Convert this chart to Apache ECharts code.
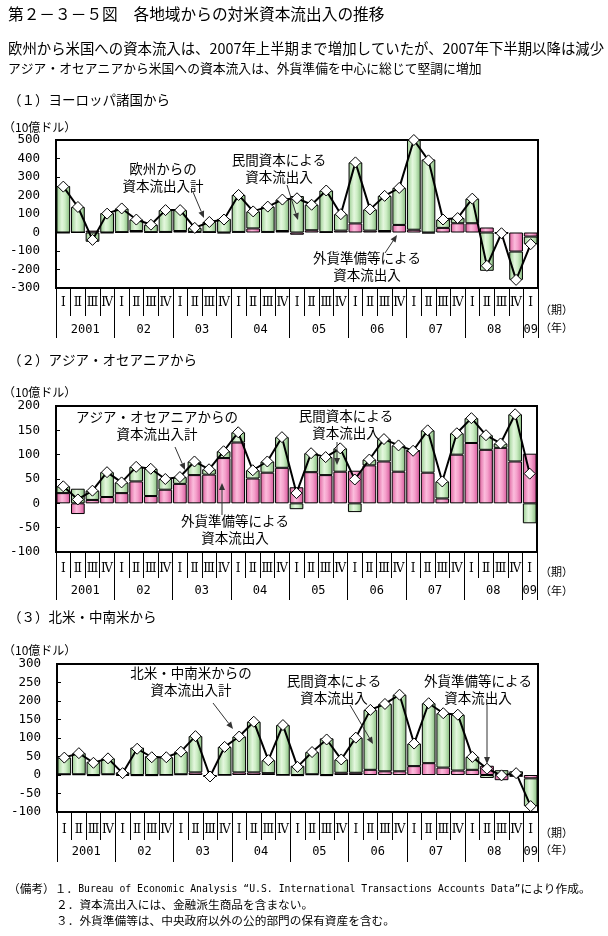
<!DOCTYPE html>
<html><head><meta charset="utf-8">
<script src="https://cdn.jsdelivr.net/npm/echarts@6/dist/echarts.min.js"></script>
<style>html,body{margin:0;padding:0;background:#fff}#c{width:608px;height:936px}</style>
</head><body><div id="c"></div>
<script>
// ---- data ----
const quarterNames = ['Ⅰ','Ⅱ','Ⅲ','Ⅳ'];
const years = ['2001','02','03','04','05','06','07','08','09'];
const quartersPerYear = [4,4,4,4,4,4,4,4,1];

// (1) Europe
const euOfficial = [-3,0,10,-3,2,8,2,3,8,3,2,-4,3,22,3,8,-12,12,2,10,49,10,8,41,15,-5,25,50,50,27,-2,-103,-22];
const euPrivate  = [251,138,-50,105,128,62,40,118,113,22,55,74,200,92,137,170,197,138,225,89,330,115,190,200,485,395,45,28,133,-207,-2,-153,-41];
const euTotal    = [248,138,-40,102,130,70,42,121,121,25,57,70,203,114,140,178,185,150,227,99,379,125,198,241,500,390,70,78,183,-180,-4,-256,-63];
// (2) Asia / Oceania
const asOfficial = [21,-22,7,13,21,45,15,28,40,58,59,93,125,51,63,73,33,64,58,65,67,78,86,65,108,63,10,100,124,110,114,86,102];
const asPrivate  = [14,30,19,51,22,30,56,22,14,28,11,14,21,17,23,63,-12,39,37,48,-18,12,46,54,0,87,35,44,51,30,9,97,-41];
const asTotal    = [35,8,26,64,43,75,71,50,54,86,70,107,146,68,86,136,21,103,95,113,49,90,132,119,108,150,45,144,175,140,123,183,61];
// (3) North / Latin America
const amOfficial = [2,2,-3,2,-2,-3,-3,0,2,7,-3,0,7,7,5,0,-3,2,-3,6,6,14,10,10,24,32,20,12,14,25,-14,-5,-9];
const amPrivate  = [45,57,36,43,7,74,51,48,61,98,-1,76,97,137,35,135,25,60,99,36,95,162,182,207,61,162,147,151,35,-8,13,10,-75];
const amTotal    = [47,59,33,45,5,71,48,48,63,105,-4,76,104,144,40,135,22,62,96,42,101,176,192,217,85,194,167,163,49,17,-1,5,-84];

const yTicks = [
  {min:-300, max:500, interval:100},
  {min:-100, max:200, interval:50},
  {min:-100, max:300, interval:50}
];

// ---- build categories ----
const categories = [];
quartersPerYear.forEach(n => { for (let i = 0; i < n; i++) categories.push(quarterNames[i]); });
const totalQ = categories.length;
const yearSlots = new Array(totalQ * 2 + 1).fill('');
const yearBounds = new Set();
let b = 0;
years.forEach((y, i) => { yearBounds.add(2 * b); yearSlots[2 * b + quartersPerYear[i]] = y; b += quartersPerYear[i]; });
yearBounds.add(2 * b);
const slotIdx = yearSlots.map((_, i) => String(i));

const CJK = "'Noto Sans CJK JP', sans-serif";
const MONO = "'DejaVu Sans Mono', monospace";
const ROMAN = "'DejaVu Serif', 'Noto Sans CJK JP', serif";

const greenGrad = new echarts.graphic.LinearGradient(0,0,1,0,[
  {offset:0,color:'#98cc8f'},{offset:0.4,color:'#e4f7de'},{offset:0.62,color:'#cdeec5'},{offset:1,color:'#84b97c'}]);
const pinkGrad = new echarts.graphic.LinearGradient(0,0,1,0,[
  {offset:0,color:'#dd5e9c'},{offset:0.4,color:'#fbbcdc'},{offset:0.62,color:'#f5a0cb'},{offset:1,color:'#d5559a'}]);

const grids = [
  {left:56, top:140, width:482, height:148},
  {left:56, top:406, width:481, height:146},
  {left:57, top:664, width:481, height:148}
];
const qMargin = [9, 11, 12], yrMargin = [36, 33, 34], qTickLen = [28, 26, 28], yrTickLen = [50, 48, 50];

const xAxes = [], yAxes = [], series = [];
const panels = [
  [euOfficial, euPrivate, euTotal],
  [asOfficial, asPrivate, asTotal],
  [amOfficial, amPrivate, amTotal]
];
panels.forEach((p, k) => {
  xAxes.push({
    type:'category', gridIndex:k, data:categories, position:'bottom',
    axisLine:{show:false, onZero:false},
    axisTick:{show:true, interval:0, length:qTickLen[k], lineStyle:{color:'#000', width:1}},
    axisLabel:{interval:0, margin:qMargin[k], fontSize:12, color:'#000', fontFamily:ROMAN},
    splitLine:{show:false}
  });
  xAxes.push({
    type:'category', gridIndex:k, data:slotIdx, boundaryGap:false, position:'bottom',
    axisLine:{show:false, onZero:false},
    axisTick:{show:true, length:yrTickLen[k], interval:(i) => yearBounds.has(i), lineStyle:{color:'#000', width:1}},
    axisLabel:{interval:(i) => yearSlots[i] !== '', formatter:(v, i) => yearSlots[+v], margin:yrMargin[k],
      fontSize:12, color:'#000', fontFamily:MONO},
    splitLine:{show:false}
  });
  yAxes.push({
    type:'value', gridIndex:k, min:yTicks[k].min, max:yTicks[k].max, interval:yTicks[k].interval,
    axisLine:{show:false},
    axisTick:{show:true, inside:true, length:4, lineStyle:{color:'#000'}},
    splitLine:{show:false},
    axisLabel:{fontFamily:MONO, fontSize:12.5, color:'#000', margin:16}
  });
  const common = {type:'bar', xAxisIndex:2*k, yAxisIndex:k, stack:'s'+k, barCategoryGap:'6%'};
  series.push(Object.assign({}, common, {name:'外貨準備等', data:p[0],
    itemStyle:{color:pinkGrad, borderColor:'#000', borderWidth:1}}));
  series.push(Object.assign({}, common, {name:'民間資本', data:p[1],
    itemStyle:{color:greenGrad, borderColor:'#000', borderWidth:1}}));
  series.push({type:'line', name:'計', xAxisIndex:2*k, yAxisIndex:k, data:p[2], z:5,
    symbol:'diamond', symbolSize:11, showAllSymbol:true,
    lineStyle:{color:'#000', width:2},
    itemStyle:{color:'#fff', borderColor:'#000', borderWidth:1}});
});

// ---- annotations ----
function txt(x, y, text, size, align, family) {
  return {type:'text', x:x, y:y, z:100, style:{text:text, fontSize:size, fontFamily:family || CJK, fill:'#000',
    align:align || 'left', verticalAlign:'middle', lineHeight:17}};
}
function arrow(x1, y1, x2, y2) {
  const a = Math.atan2(y2 - y1, x2 - x1), L = 7, W = 3;
  const bx = x2 - L * Math.cos(a), by = y2 - L * Math.sin(a);
  const px = -Math.sin(a) * W, py = Math.cos(a) * W;
  return [
    {type:'line', z:100, shape:{x1:x1, y1:y1, x2:bx, y2:by}, style:{stroke:'#333', lineWidth:1}},
    {type:'polygon', z:100, shape:{points:[[x2,y2],[bx+px,by+py],[bx-px,by-py]]}, style:{fill:'#333'}}
  ];
}
const graphics = [
  txt(8, 14, '第２－３－５図　各地域からの対米資本流出入の推移', 15.7),
  txt(8, 49, '欧州から米国への資本流入は、2007年上半期まで増加していたが、2007年下半期以降は減少', 14.4),
  txt(8, 68, 'アジア・オセアニアから米国への資本流入は、外貨準備を中心に総じて堅調に増加', 12.8),
  txt(8, 100, '（１）ヨーロッパ諸国から', 13.5),
  txt(3, 127, '（10億ドル）', 12),
  txt(8, 360, '（２）アジア・オセアニアから', 13.5),
  txt(3, 392, '（10億ドル）', 12),
  txt(8, 617, '（３）北米・中南米から', 13.5),
  txt(3, 650, '（10億ドル）', 12),

  txt(163, 177, '欧州からの\n資本流出入計', 13.5, 'center'),
  txt(279, 168.5, '民間資本による\n資本流出入', 13.5, 'center'),
  txt(367, 266.5, '外貨準備等による\n資本流出入', 13.5, 'center'),
  txt(157, 425.5, 'アジア・オセアニアからの\n資本流出入計', 13.5, 'center'),
  txt(346, 424, '民間資本による\n資本流出入', 13.5, 'center'),
  txt(235, 529.5, '外貨準備等による\n資本流出入', 13.5, 'center'),
  txt(191, 681.5, '北米・中南米からの\n資本流出入計', 13.5, 'center'),
  txt(334, 689.5, '民間資本による\n資本流出入', 13.5, 'center'),
  txt(478, 689.5, '外貨準備等による\n資本流出入', 13.5, 'center'),

  txt(540, 310, '（期）', 11), txt(540, 328, '（年）', 11),
  txt(540, 572, '（期）', 11), txt(540, 591, '（年）', 11),
  txt(540, 833, '（期）', 11), txt(540, 850, '（年）', 11),

  {type:'text', x:8, y:889, z:100, style:{
    text:'{c|（備考）１．}{m|Bureau of Economic Analysis “U.S. International Transactions Accounts Data”}{c|により作成。}',
    verticalAlign:'middle', fill:'#000',
    rich:{c:{fontFamily:CJK, fontSize:11.7, fill:'#000'}, m:{fontFamily:MONO, fontSize:9.8, fill:'#000'}}}},
  txt(56, 905, '２．資本流出入には、金融派生商品を含まない。', 11.7),
  txt(56, 921, '３．外貨準備等は、中央政府以外の公的部門の保有資産を含む。', 11.7)
].concat(
  arrow(193,192,204,218), arrow(287,185,298,220), arrow(385,253,397,235),
  arrow(175,447,185,470), arrow(337,442,337,465), arrow(222,515,222,483),
  arrow(213,703,233,729), arrow(350,705,373,744), arrow(487,705,487,764)
);

const chart = echarts.init(document.getElementById('c'), null, {renderer:'canvas'});
chart.setOption({
  animation:false,
  backgroundColor:'#fff',
  grid: grids.map(g => Object.assign({show:true, borderColor:'#000', borderWidth:2, backgroundColor:'transparent'}, g)),
  xAxis: xAxes,
  yAxis: yAxes,
  series: series,
  graphic: graphics
});
</script></body></html>
